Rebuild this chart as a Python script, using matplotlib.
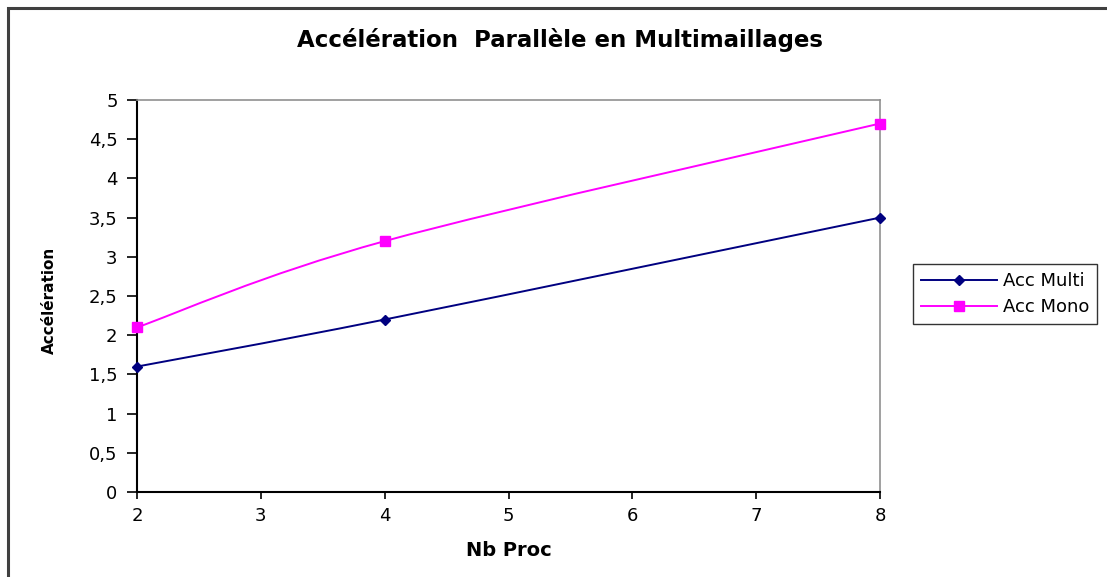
import numpy as np
import matplotlib
matplotlib.use("Agg")
import matplotlib.pyplot as plt
from matplotlib.path import Path
from matplotlib.patches import PathPatch, Rectangle
from matplotlib.lines import Line2D

plt.rcParams['font.family'] = ['DejaVu Sans']

# data
nb_proc = [2, 4, 8]
acc_multi = [1.6, 2.2, 3.5]
acc_mono = [2.1, 3.2, 4.7]
y_ticks = [0, 0.5, 1, 1.5, 2, 2.5, 3, 3.5, 4, 4.5, 5]
y_labels = ['0', '0,5', '1', '1,5', '2', '2,5', '3', '3,5', '4', '4,5', '5']
x_ticks = [2, 3, 4, 5, 6, 7, 8]


def smooth_path(xs, ys):
    # Excel-like smoothed line: Catmull-Rom segments as cubic Bezier
    pts = np.column_stack([xs, ys]).astype(float)
    n = len(pts)
    verts = [pts[0]]
    codes = [Path.MOVETO]
    for i in range(n - 1):
        p0 = pts[max(i - 1, 0)]
        p1 = pts[i]
        p2 = pts[i + 1]
        p3 = pts[min(i + 2, n - 1)]
        verts += [p1 + (p2 - p0) / 6, p2 - (p3 - p1) / 6, p2]
        codes += [Path.CURVE4] * 3
    return Path(verts, codes)


fig = plt.figure(figsize=(11.07, 5.77), dpi=100)
ax = fig.add_axes([0.1238, 0.1473, 0.6712, 0.6794])

series = [
    ('Acc Multi', acc_multi, '#000080', 'D', 5.5),
    ('Acc Mono', acc_mono, '#FF00FF', 's', 6.5),
]
handles = []
for name, vals, col, mk, ms in series:
    ax.add_patch(PathPatch(smooth_path(nb_proc, vals), fill=False,
                           edgecolor=col, lw=1.4, zorder=3))
    ax.plot(nb_proc, vals, ls='none', marker=mk, ms=ms, color=col,
            zorder=4, clip_on=False)
    handles.append(Line2D([], [], color=col, lw=1.4, marker=mk, ms=ms))

ax.set_xlim(2, 8)
ax.set_ylim(0, 5)
ax.set_xticks(x_ticks)
ax.set_yticks(y_ticks)
ax.set_yticklabels(y_labels)
ax.tick_params(labelsize=13, width=1.2, color='black')
ax.tick_params(axis='y', length=7, pad=7)
ax.tick_params(axis='x', length=5, pad=6)
for s in ['left', 'bottom']:
    ax.spines[s].set_color('black')
    ax.spines[s].set_linewidth(1.5)
for s in ['top', 'right']:
    ax.spines[s].set_color('#909090')
    ax.spines[s].set_linewidth(1.2)

ax.set_xlabel('Nb Proc', fontsize=14, fontweight='bold')
ax.set_ylabel('Accélération', fontsize=11, fontweight='bold')
ax.xaxis.set_label_coords(0.5, -0.126)
ax.yaxis.set_label_coords(-0.108, 0.49)
fig.text(0.506, 0.931, 'Accélération  Parallèle en Multimaillages',
         fontsize=16.5, fontweight='bold', ha='center', va='center')

fig.legend(handles, ['Acc Multi', 'Acc Mono'], loc='center left',
           bbox_to_anchor=(0.825, 0.49), fontsize=13, frameon=True,
           fancybox=False, edgecolor='black', handlelength=4.2,
           handletextpad=0.3, borderpad=0.45, labelspacing=0.45,
           borderaxespad=0)

fig.patches.append(Rectangle((0.0075, -0.05), 1.1, 1.036, transform=fig.transFigure,
                             fill=False, edgecolor='#404040', lw=2.2))

plt.savefig('out.png', dpi=100)
